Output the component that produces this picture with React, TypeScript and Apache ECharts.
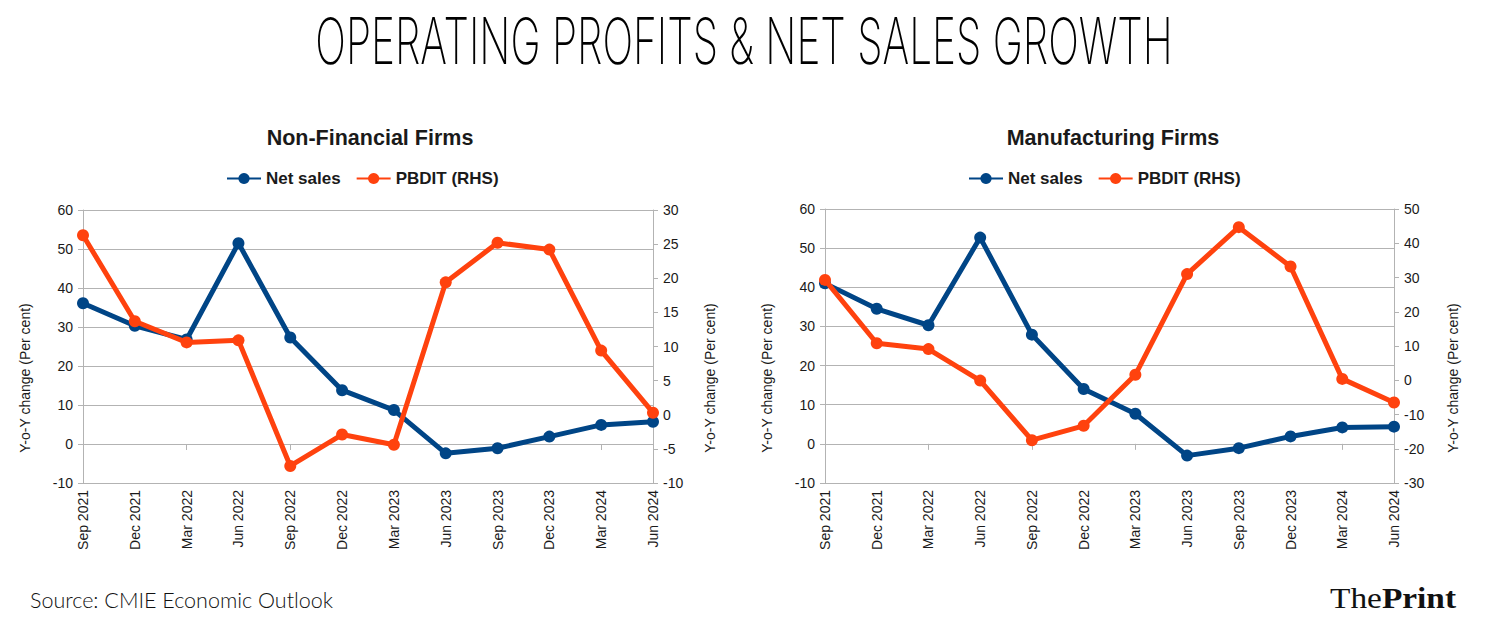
import React, { useEffect, useRef } from "react";
import * as echarts from "echarts";

const categories = [
  "Sep 2021", "Dec 2021", "Mar 2022", "Jun 2022", "Sep 2022", "Dec 2022",
  "Mar 2023", "Jun 2023", "Sep 2023", "Dec 2023", "Mar 2024", "Jun 2024",
];
const nonFinNetSales = [36.1, 30.3, 26.8, 51.5, 27.3, 13.8, 8.7, -2.4, -1.1, 1.9, 4.9, 5.7];
const nonFinPbdit = [26.3, 13.7, 10.6, 10.9, -7.5, -2.9, -4.4, 19.4, 25.2, 24.2, 9.4, 0.3];
const mfgNetSales = [41.0, 34.5, 30.3, 52.7, 27.9, 14.0, 7.7, -3.0, -1.1, 1.9, 4.2, 4.4];
const mfgPbdit = [29.3, 10.8, 9.1, -0.1, -17.5, -13.3, 1.6, 31.0, 44.7, 33.2, 0.4, -6.5];

const seriesNames = ["Net sales", "PBDIT (RHS)"];
const mainTitle = "OPERATING PROFITS & NET SALES GROWTH";
const subTitles = ["Non-Financial Firms", "Manufacturing Firms"];
const axisName = "Y-o-Y change (Per cent)";
const sourceText = "Source: CMIE Economic Outlook";

const BLUE = "#004586";
const ORANGE = "#ff420e";
const GRID_GRAY = "#b3b3b3";
const TEXT = "#1a1a1a";
const FONT = "'Liberation Sans', Arial, sans-serif";

export default function App() {
  const ref = useRef<HTMLDivElement>(null);
  useEffect(() => {
    if (!ref.current) return;
    const chart = echarts.init(ref.current, null, { renderer: "svg" });

    const ctx = document.createElement("canvas").getContext("2d")!;
    ctx.font = "200 64px Inter";
    const tw = ctx.measureText(mainTitle).width || 1500;
    const sx = 857 / tw;

    const xLabelAxis = (gridIndex: number) => ({
      type: "category",
      gridIndex,
      data: categories,
      boundaryGap: false,
      position: "bottom",
      axisLine: { show: false, onZero: false },
      axisTick: { show: false },
      splitLine: { show: false },
      axisLabel: { rotate: 90, margin: 7, fontSize: 14, fontFamily: FONT, color: TEXT },
    });
    const xZeroAxis = (gridIndex: number, onZeroAxisIndex: number) => ({
      type: "category",
      gridIndex,
      data: categories,
      boundaryGap: false,
      position: "bottom",
      axisLine: { show: true, onZero: true, onZeroAxisIndex, lineStyle: { color: GRID_GRAY, width: 1 } },
      axisTick: { show: true, length: 6, inside: false, lineStyle: { color: GRID_GRAY } },
      axisLabel: { show: false },
      splitLine: { show: false },
    });
    const yAxis = (gridIndex: number, position: string, min: number, max: number, interval: number, split: boolean) => ({
      type: "value",
      gridIndex,
      position,
      min,
      max,
      interval,
      axisLine: { show: true, lineStyle: { color: GRID_GRAY, width: 1 } },
      axisTick: { show: true, length: 5, lineStyle: { color: GRID_GRAY } },
      axisLabel: { margin: 10, fontSize: 14, fontFamily: FONT, color: TEXT },
      splitLine: { show: split, lineStyle: { color: GRID_GRAY, width: 1 } },
    });

    const lineSeries = (name: string, data: number[], color: string, xAxisIndex: number, yAxisIndex: number) => ({
      type: "line",
      name,
      data,
      xAxisIndex,
      yAxisIndex,
      symbol: "circle",
      symbolSize: 12,
      lineStyle: { color, width: 5 },
      itemStyle: { color },
      z: name === seriesNames[0] ? 3 : 4,
    });

    const legend = (left: number) => ({
      data: seriesNames,
      top: 170,
      left,
      padding: 0,
      itemWidth: 34,
      itemHeight: 14,
      itemGap: 15,
      textStyle: { fontSize: 17, fontWeight: "bold", fontFamily: FONT, color: TEXT },
    });

    const axisNameText = (x: number) => ({
      type: "text",
      x,
      y: 378,
      rotation: Math.PI / 2,
      style: {
        text: axisName,
        fontSize: 14,
        fontFamily: FONT,
        fill: TEXT,
        align: "center",
        verticalAlign: "middle",
      },
    });

    chart.setOption({
      animation: false,
      backgroundColor: "#ffffff",
      title: [
        { text: subTitles[0], left: 365, top: 122, textAlign: "center", textStyle: { fontSize: 21.5, fontWeight: "bold", fontFamily: FONT, color: TEXT } },
        { text: subTitles[1], left: 1108, top: 122, textAlign: "center", textStyle: { fontSize: 21.5, fontWeight: "bold", fontFamily: FONT, color: TEXT } },
      ],
      legend: [legend(226), legend(968)],
      grid: [
        { left: 83, right: 835, top: 210, bottom: 139 },
        { left: 825, right: 94, top: 209, bottom: 139 },
      ],
      xAxis: [xLabelAxis(0), xZeroAxis(0, 0), xLabelAxis(1), xZeroAxis(1, 2)],
      yAxis: [
        yAxis(0, "left", -10, 60, 10, true),
        yAxis(0, "right", -10, 30, 5, false),
        yAxis(1, "left", -10, 60, 10, true),
        yAxis(1, "right", -30, 50, 10, false),
      ],
      series: [
        lineSeries(seriesNames[0], nonFinNetSales, BLUE, 0, 0),
        lineSeries(seriesNames[1], nonFinPbdit, ORANGE, 0, 1),
        lineSeries(seriesNames[0], mfgNetSales, BLUE, 2, 2),
        lineSeries(seriesNames[1], mfgPbdit, ORANGE, 2, 3),
      ],
      graphic: [
        {
          type: "text",
          x: 744,
          y: 41,
          scaleX: sx,
          style: {
            text: mainTitle,
            fontSize: 64,
            fontWeight: 200,
            fontFamily: "Inter",
            fill: "#000",
            align: "center",
            verticalAlign: "middle",
          },
        },
        axisNameText(25),
        axisNameText(710),
        axisNameText(767),
        axisNameText(1453),
        {
          type: "text",
          x: 30,
          y: 600,
          style: {
            text: sourceText,
            fontSize: 21.5,
            fontWeight: 300,
            fontFamily: "Lato",
            fill: "#111",
            align: "left",
            verticalAlign: "middle",
          },
        },
        {
          type: "text",
          x: 1456,
          y: 598,
          scaleX: 1.15,
          style: {
            text: "{a|The}{b|Print}",
            align: "right",
            verticalAlign: "middle",
            rich: {
              a: { fontSize: 29, fontFamily: "'Liberation Serif', serif", fill: "#111", fontWeight: "normal" },
              b: { fontSize: 29, fontFamily: "'Liberation Serif', serif", fill: "#111", fontWeight: "bold" },
            },
          },
        },
      ],
    });
    return () => chart.dispose();
  }, []);
  return <div ref={ref} style={{ position: "absolute", left: 0, top: 0, width: 1488, height: 622 }} />;
}
